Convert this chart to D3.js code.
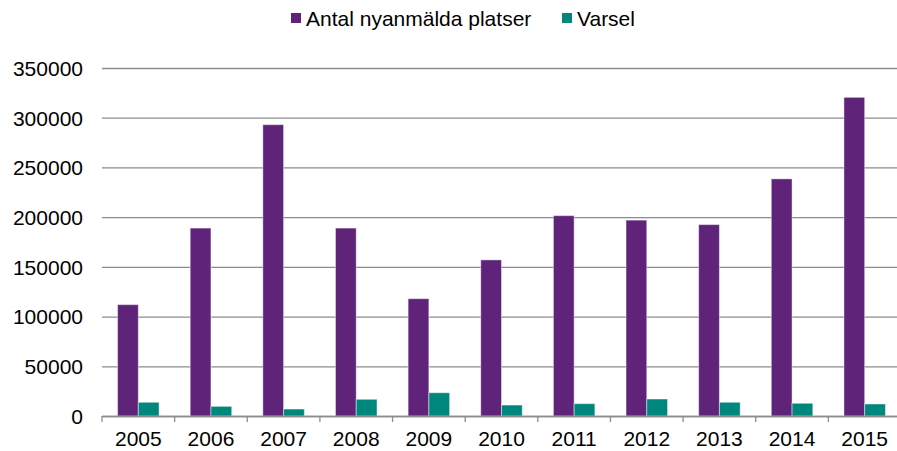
<!DOCTYPE html>
<html>
<head>
<meta charset="utf-8">
<script src="https://cdn.jsdelivr.net/npm/d3@7"></script>
<style>
  body { margin: 0; background: #fff; }
  svg { display: block; font-family: "Liberation Sans", Arial, sans-serif; }
</style>
</head>
<body>
<div id="chart"></div>
<script>
// Data
const years = ["2005", "2006", "2007", "2008", "2009", "2010", "2011", "2012", "2013", "2014", "2015"];
const nyanmalda = [112000, 189000, 293000, 189000, 118000, 157000, 201500, 197000, 192500, 238500, 320500];
const varsel = [13800, 9700, 7000, 16800, 23400, 11000, 12400, 17100, 13800, 12800, 12100];
const seriesNames = ["Antal nyanmälda platser", "Varsel"];
const seriesColors = ["#5f247a", "#00877d"];
const yTicks = [0, 50000, 100000, 150000, 200000, 250000, 300000, 350000];

const width = 897, height = 451;
const plot = {left: 102, right: 901, top: 68, bottom: 416};

const svg = d3.select("#chart")
    .append("svg")
        .attr("width", width)
        .attr("height", height);

const x = d3.scaleBand()
    .domain(years)
    .range([plot.left, plot.right])
    .paddingInner(0)
    .paddingOuter(0);

const xInner = d3.scaleBand()
    .domain(seriesNames)
    .range([0, x.bandwidth()])
    .paddingInner(0)
    .paddingOuter(0.75);

const y = d3.scaleLinear()
    .domain([0, 350000])
    .range([plot.bottom, plot.top]);

// gridlines + y labels
const yAxis = svg.append("g")
    .attr("transform", `translate(${plot.left},0)`)
    .call(d3.axisLeft(y).tickValues(yTicks).tickSize(-(plot.right - plot.left)).tickFormat(d3.format("d")).tickPadding(19));
yAxis.select(".domain").remove();
yAxis.selectAll(".tick line")
    .attr("stroke", "#8c8c8c")
    .attr("stroke-width", 1.3);
yAxis.selectAll(".tick text")
    .attr("fill", "#000")
    .style("font-size", "21px")
    .attr("dy", "0.35em");

// bars
const rows = years.map((yr, i) => ({year: yr, values: [nyanmalda[i], varsel[i]]}));
const groups = svg.append("g")
    .selectAll("g")
    .data(rows)
    .join("g")
        .attr("transform", d => `translate(${x(d.year)},0)`);

groups.selectAll("rect")
    .data(d => d.values.map((v, k) => ({name: seriesNames[k], value: v, k})))
    .join("rect")
        .attr("x", d => xInner(d.name))
        .attr("y", d => y(d.value))
        .attr("width", xInner.bandwidth())
        .attr("height", d => y(0) - y(d.value))
        .attr("fill", d => seriesColors[d.k])
        .attr("stroke", "rgba(255,255,255,0.45)")
        .attr("stroke-width", 1);

// x axis
const xAxis = svg.append("g")
    .attr("transform", `translate(0,${plot.bottom})`)
    .call(d3.axisBottom(x).tickSize(0).tickPadding(15));
xAxis.select(".domain")
    .attr("stroke", "#8c8c8c")
    .attr("stroke-width", 1.3);
xAxis.selectAll(".tick text")
    .attr("fill", "#000")
    .style("font-size", "21px");

// tick marks between categories
svg.append("g")
    .selectAll("line")
    .data(years)
    .join("line")
        .attr("x1", d => x(d))
        .attr("x2", d => x(d))
        .attr("y1", plot.bottom)
        .attr("y2", plot.bottom + 6)
        .attr("stroke", "#8c8c8c")
        .attr("stroke-width", 1.3);

// legend
const legendX = [291, 562];
const legend = svg.append("g")
    .selectAll("g")
    .data(seriesNames)
    .join("g")
        .attr("transform", (d, i) => `translate(${legendX[i]},0)`);
legend.append("rect")
    .attr("x", 0)
    .attr("y", 13)
    .attr("width", 10)
    .attr("height", 10)
    .attr("fill", (d, i) => seriesColors[i]);
legend.append("text")
    .attr("x", 15)
    .attr("y", 26)
    .style("font-size", "21px")
    .attr("fill", "#000")
    .text(d => d);
</script>
</body>
</html>
